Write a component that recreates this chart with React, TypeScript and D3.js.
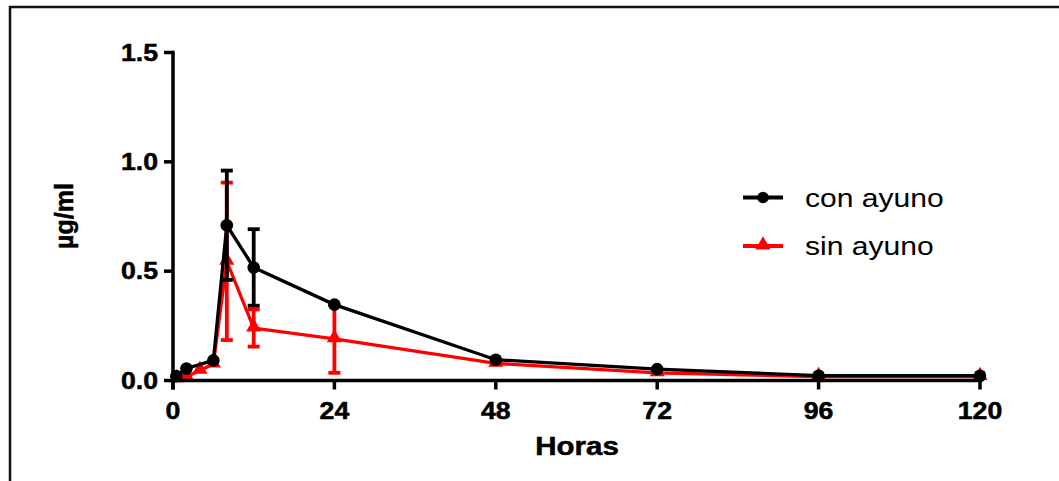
import React from "react";
import * as d3 from "d3";

// Plasma concentration (µg/ml) over time (hours), fasted vs. fed
const hoursCon = [0.5, 2, 6, 8, 12, 24, 48, 72, 96, 120];
const meanCon = [0.02, 0.055, 0.092, 0.71, 0.517, 0.347, 0.095, 0.052, 0.022, 0.022];
const sdCon = [0, 0, 0, 0.25, 0.175, 0, 0, 0, 0, 0];

const hoursSin = [0.5, 2, 4, 6, 8, 12, 24, 48, 72, 96, 120];
const meanSin = [0.008, 0.017, 0.046, 0.075, 0.545, 0.24, 0.19, 0.078, 0.035, 0.018, 0.018];
const sdSin = [0, 0, 0, 0, 0.36, 0.085, 0.155, 0, 0, 0, 0];

const xTicks = [0, 24, 48, 72, 96, 120];
const yTicks = [0, 0.5, 1.0, 1.5];
const seriesNames = ["con ayuno", "sin ayuno"];
const colors = ["#000000", "#ff0000"];

const W = 1059;
const H = 481;
const FONT = "'Liberation Sans', Arial, sans-serif";

const x = d3.scaleLinear().domain([0, 120]).range([173, 980]);
const y = d3.scaleLinear().domain([0, 1.5]).range([380.5, 52.5]);

type Pt = { t: number; v: number; sd: number };
const toPts = (h: number[], m: number[], s: number[]): Pt[] =>
  h.map((t, i) => ({ t, v: m[i], sd: s[i] }));

const line = d3
  .line<Pt>()
  .x((d) => x(d.t))
  .y((d) => y(d.v));

const triangle = d3.symbol(d3.symbolTriangle, 100)();

function StretchText(props: {
  x: number;
  y: number;
  sx?: number;
  anchor?: string;
  size: number;
  weight?: string;
  children: React.ReactNode;
}) {
  const { sx = 1.16, anchor = "start", size, weight = "bold" } = props;
  return (
    <text
      transform={`translate(${props.x},${props.y}) scale(${sx},1)`}
      textAnchor={anchor}
      fontFamily={FONT}
      fontSize={size}
      fontWeight={weight}
      fill="#000"
      stroke={weight === "bold" ? "#000" : "none"}
      strokeWidth={weight === "bold" ? 0.5 : 0}
    >
      {props.children}
    </text>
  );
}

function Series({ pts, color, marker }: { pts: Pt[]; color: string; marker: "circle" | "triangle" }) {
  return (
    <g>
      <path d={line(pts) || ""} fill="none" stroke={color} strokeWidth={3.3} />
      {pts
        .filter((d) => d.sd > 0)
        .map((d, i) => {
          const cx = x(d.t);
          const top = y(d.v + d.sd);
          const bot = y(Math.max(0, d.v - d.sd));
          return (
            <g key={i} stroke={color} strokeWidth={3.8}>
              <line x1={cx} x2={cx} y1={top} y2={bot} />
              <line x1={cx - 6} x2={cx + 6} y1={top} y2={top} />
              <line x1={cx - 6} x2={cx + 6} y1={bot} y2={bot} />
            </g>
          );
        })}
      {pts.map((d, i) =>
        marker === "circle" ? (
          <circle key={i} cx={x(d.t)} cy={y(d.v)} r={6.3} fill={color} />
        ) : (
          <path key={i} d={triangle || ""} transform={`translate(${x(d.t)},${y(d.v) - 1})`} fill={color} />
        )
      )}
    </g>
  );
}

export default function App() {
  const con = toPts(hoursCon, meanCon, sdCon);
  const sin = toPts(hoursSin, meanSin, sdSin);
  const y0 = y(0);
  return (
    <svg
      width={W}
      height={H}
      style={{ position: "absolute", left: 0, top: 0, background: "#fff" }}
    >
      {/* frame */}
      <path d={`M10,${H + 2} L10,7 L${W + 2},7`} fill="none" stroke="#111" strokeWidth={2.5} />

      {/* data */}
      <Series pts={sin} color={colors[1]} marker="triangle" />
      <Series pts={con} color={colors[0]} marker="circle" />

      {/* axes */}
      <g stroke="#000" strokeWidth={3.5}>
        <line x1={x(0)} x2={x(0)} y1={y(1.5) - 1.7} y2={y0 + 9} />
        <line x1={x(0) - 1.7} x2={x(120) + 1.7} y1={y0} y2={y0} />
        {yTicks.map((t) => (
          <line key={t} x1={x(0) - 9} x2={x(0)} y1={y(t)} y2={y(t)} />
        ))}
        {xTicks.map((t) => (
          <line key={t} x1={x(t)} x2={x(t)} y1={y0} y2={y0 + 9} />
        ))}
      </g>
      {yTicks.map((t) => (
        <StretchText key={t} x={158} y={y(t) + 8.3} anchor="end" size={23}>
          {d3.format(".1f")(t)}
        </StretchText>
      ))}
      {xTicks.map((t) => (
        <StretchText key={t} x={x(t)} y={418.5} anchor="middle" size={23}>
          {t}
        </StretchText>
      ))}
      <StretchText x={577} y={454.5} anchor="middle" size={25} sx={1.18}>
        Horas
      </StretchText>
      <text
        transform={`translate(73,216) rotate(-90)`}
        textAnchor="middle"
        fontFamily={FONT}
        fontSize={25}
        fontWeight="bold"
        stroke="#000"
        strokeWidth={0.5}
      >
        µg/ml
      </text>

      {/* legend */}
      {seriesNames.map((name, i) => {
        const ly = 197.5 + i * 48.5;
        return (
          <g key={name}>
            <line x1={743} x2={783} y1={ly} y2={ly} stroke={colors[i]} strokeWidth={4} />
            {i === 0 ? (
              <circle cx={763} cy={ly} r={5.8} fill={colors[i]} />
            ) : (
              <path d={triangle || ""} transform={`translate(763,${ly - 1})`} fill={colors[i]} />
            )}
            <StretchText x={805} y={ly + 9} size={25.5} weight="normal" sx={1.18}>
              {name}
            </StretchText>
          </g>
        );
      })}
    </svg>
  );
}
